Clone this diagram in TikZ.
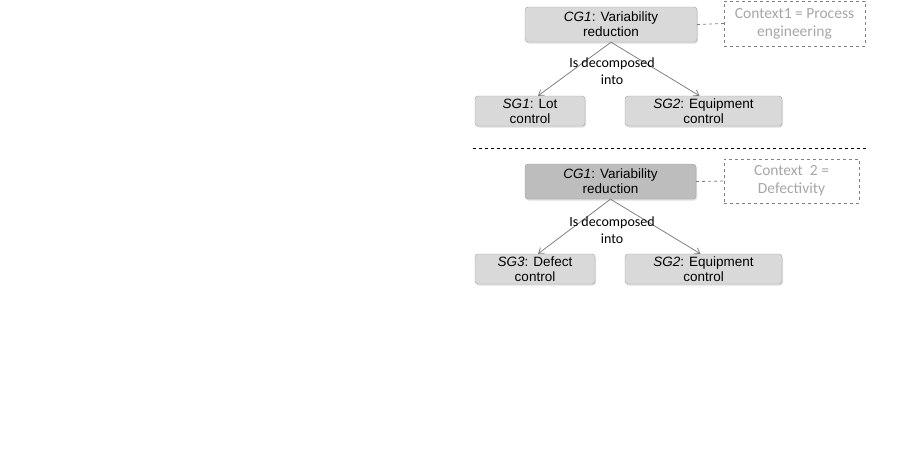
\documentclass[tikz,border=0pt]{standalone}
\usepackage{fontspec}
\usepackage{tikz}
\usetikzlibrary{arrows.meta,shadows}
\setmainfont{Liberation Sans}
\newfontfamily\calib{Carlito}
\definecolor{grigio}{HTML}{D9D9D9}
\definecolor{grigioscuro}{HTML}{BDBDBD}
\definecolor{bordo}{HTML}{A3A3A3}
\definecolor{freccia}{HTML}{808080}
\definecolor{testoctx}{HTML}{A6A6A6}
\tikzset{
  goal/.style={draw=bordo, fill=grigio, rounded corners=3pt, align=center,
    inner sep=0pt, font=\fontsize{13.5}{15}\selectfont,
    drop shadow={opacity=0.25, shadow xshift=1pt, shadow yshift=-1.5pt}},
  ctx/.style={draw=freccia, dashed, align=center, inner sep=0pt,
    text=testoctx, font=\calib\fontsize{15.5}{18}\selectfont},
  link/.style={freccia, thick, -{Straight Barb[length=5pt,width=7pt]}},
  ctxlink/.style={freccia, thick, dashed},
  lbl/.style={align=center, font=\calib\fontsize{14}{17}\selectfont}
}
\begin{document}
\begin{tikzpicture}[x=1pt, y=-1pt]
  \useasboundingbox (0,0) rectangle (901,461);
  % First decomposition
  \node[goal, minimum width=172pt, minimum height=35pt] (cga) at (611,24.5)
    {\textit{CG1}: Variability\\reduction};
  \node[ctx, minimum width=141pt, minimum height=45pt] (ctxa) at (794.5,23.5)
    {Context1 = Process\\engineering};
  \draw[ctxlink] (cga.east) -- (ctxa.west);
  \node[goal, minimum width=110pt, minimum height=30pt] (sga) at (530,111)
    {\textit{SG1}: Lot\\control};
  \node[goal, minimum width=157pt, minimum height=30pt] (sgb) at (703.5,111)
    {\textit{SG2}: Equipment\\control};
  \draw[link] (cga.south) -- ([xshift=8pt]sga.north);
  \draw[link] (cga.south) -- ([xshift=-4pt]sgb.north);
  \node[lbl] (deca) at (612,71) {Is decomposed\\into};
  % Separator
  \coordinate (sepl) at (473,148);
  \coordinate (sepr) at (867,148);
  \draw[dashed] (sepl) -- (sepr);
  % Second decomposition
  \node[goal, fill=grigioscuro, minimum width=171pt, minimum height=35pt] (cgb) at (610.5,181.5)
    {\textit{CG1}: Variability\\reduction};
  \node[ctx, minimum width=135pt, minimum height=44pt] (ctxb) at (791.5,181)
    {Context\ \ 2 =\\Defectivity};
  \draw[ctxlink] (cgb.east) -- (ctxb.west);
  \node[goal, minimum width=120pt, minimum height=30pt] (sgc) at (535,269)
    {\textit{SG3}: Defect\\control};
  \node[goal, minimum width=157pt, minimum height=30pt] (sgd) at (703.5,269)
    {\textit{SG2}: Equipment\\control};
  \draw[link] (cgb.south) -- ([xshift=3pt]sgc.north);
  \draw[link] (cgb.south) -- ([xshift=-3pt]sgd.north);
  \node[lbl] (decb) at (612,230) {Is decomposed\\into};
\end{tikzpicture}
\end{document}
